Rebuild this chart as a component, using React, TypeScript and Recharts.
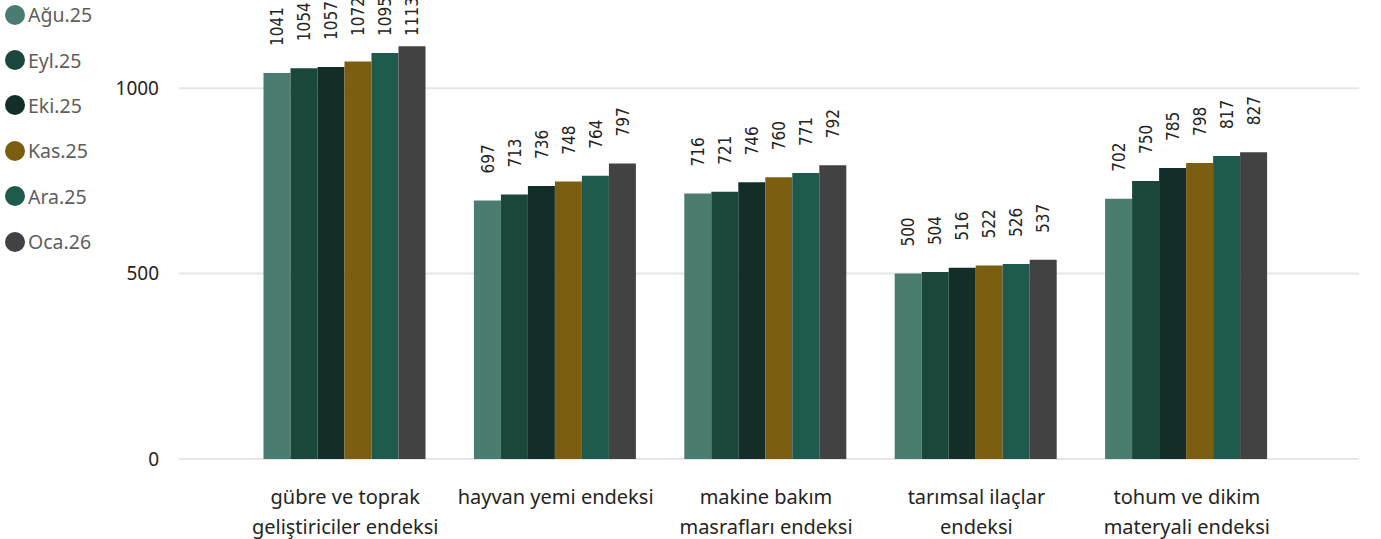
import { BarChart, Bar, XAxis, YAxis, CartesianGrid, LabelList } from "recharts";

const categories = [
  "gübre ve toprak geliştiriciler endeksi",
  "hayvan yemi endeksi",
  "makine bakım masrafları endeksi",
  "tarımsal ilaçlar endeksi",
  "tohum ve dikim materyali endeksi",
];

const seriesNames = ["Ağu.25", "Eyl.25", "Eki.25", "Kas.25", "Ara.25", "Oca.26"];
const seriesColors = ["#4a7c70", "#1a463b", "#132e29", "#7b5e10", "#1f5b4d", "#424242"];

const agu25 = [1041, 697, 716, 500, 702];
const eyl25 = [1054, 713, 721, 504, 750];
const eki25 = [1057, 736, 746, 516, 785];
const kas25 = [1072, 748, 760, 522, 798];
const ara25 = [1095, 764, 771, 526, 817];
const oca26 = [1113, 797, 792, 537, 827];

const yTicks = [0, 500, 1000];

const allSeries = [agu25, eyl25, eki25, kas25, ara25, oca26];

const data = categories.map((name, i) => {
  const row: Record<string, string | number> = { name };
  seriesNames.forEach((s, j) => {
    row[s] = allSeries[j][i];
  });
  return row;
});

const FONT = "'Noto Sans', 'Open Sans', sans-serif";

// split a category into lines of at most ~22 chars
function wrap(text: string, max = 22) {
  const words = text.split(" ");
  const lines: string[] = [];
  let cur = "";
  for (const w of words) {
    const next = cur ? cur + " " + w : w;
    if (next.length > max && cur) {
      lines.push(cur);
      cur = w;
    } else {
      cur = next;
    }
  }
  if (cur) lines.push(cur);
  return lines;
}

function CategoryTick(props: any) {
  const { x, y, payload } = props;
  const lines = wrap(payload.value);
  return (
    <text x={x} y={y} textAnchor="middle" fill="#252423" fontSize={20} fontFamily={FONT}>
      {lines.map((l, i) => (
        <tspan key={i} x={x} dy={i === 0 ? 37 : 30}>
          {l}
        </tspan>
      ))}
    </text>
  );
}

function ValueLabel(props: any) {
  const { x, y, width, value } = props;
  const cx = x + width / 2;
  // labels sit above the bar but are pushed up no further than the top edge allows
  const ty = Math.max(y - 27, 36);
  return (
    <text
      x={cx}
      y={ty}
      transform={`rotate(-90, ${cx}, ${ty})`}
      dy="0.36em"
      textAnchor="start"
      fill="#252423"
      fontSize={17}
      fontFamily="'DejaVu Sans Condensed', 'Roboto', sans-serif"
    >
      {value}
    </text>
  );
}

export default function App() {
  return (
    <div style={{ position: "absolute", left: 0, top: 0, width: 1381, height: 539, background: "#fff" }}>
      <BarChart
        width={1381}
        height={539}
        data={data}
        margin={{ top: 14, right: 22, bottom: 0, left: 0 }}
        barGap={0}
        barCategoryGap={23.5}
      >
        <CartesianGrid vertical={false} stroke="#e6e6e6" strokeWidth={2} horizontalValues={yTicks} />
        <XAxis
          dataKey="name"
          axisLine={false}
          tickLine={false}
          height={80}
          interval={0}
          padding={{ left: 61, right: 67 }}
          tick={<CategoryTick />}
        />
        <YAxis
          width={179}
          domain={[0, 1200]}
          ticks={yTicks}
          axisLine={false}
          tickLine={false}
          tickSize={0}
          tickMargin={20}
          tick={{ fill: "#252423", fontSize: 19, fontFamily: FONT }}
        />
        {seriesNames.map((s, i) => (
          <Bar key={s} dataKey={s} fill={seriesColors[i]} isAnimationActive={false}>
            <LabelList dataKey={s} content={<ValueLabel />} />
          </Bar>
        ))}
      </BarChart>
      <div style={{ position: "absolute", left: 5, top: -8, fontFamily: FONT, fontSize: 19.5, color: "#605e5c" }}>
        {seriesNames.map((s, i) => (
          <div key={s} style={{ display: "flex", alignItems: "center", height: 45.4 }}>
            <span
              style={{
                display: "inline-block",
                width: 20,
                height: 20,
                borderRadius: 10,
                background: seriesColors[i],
                marginRight: 3,
              }}
            />
            <span>{s}</span>
          </div>
        ))}
      </div>
    </div>
  );
}
